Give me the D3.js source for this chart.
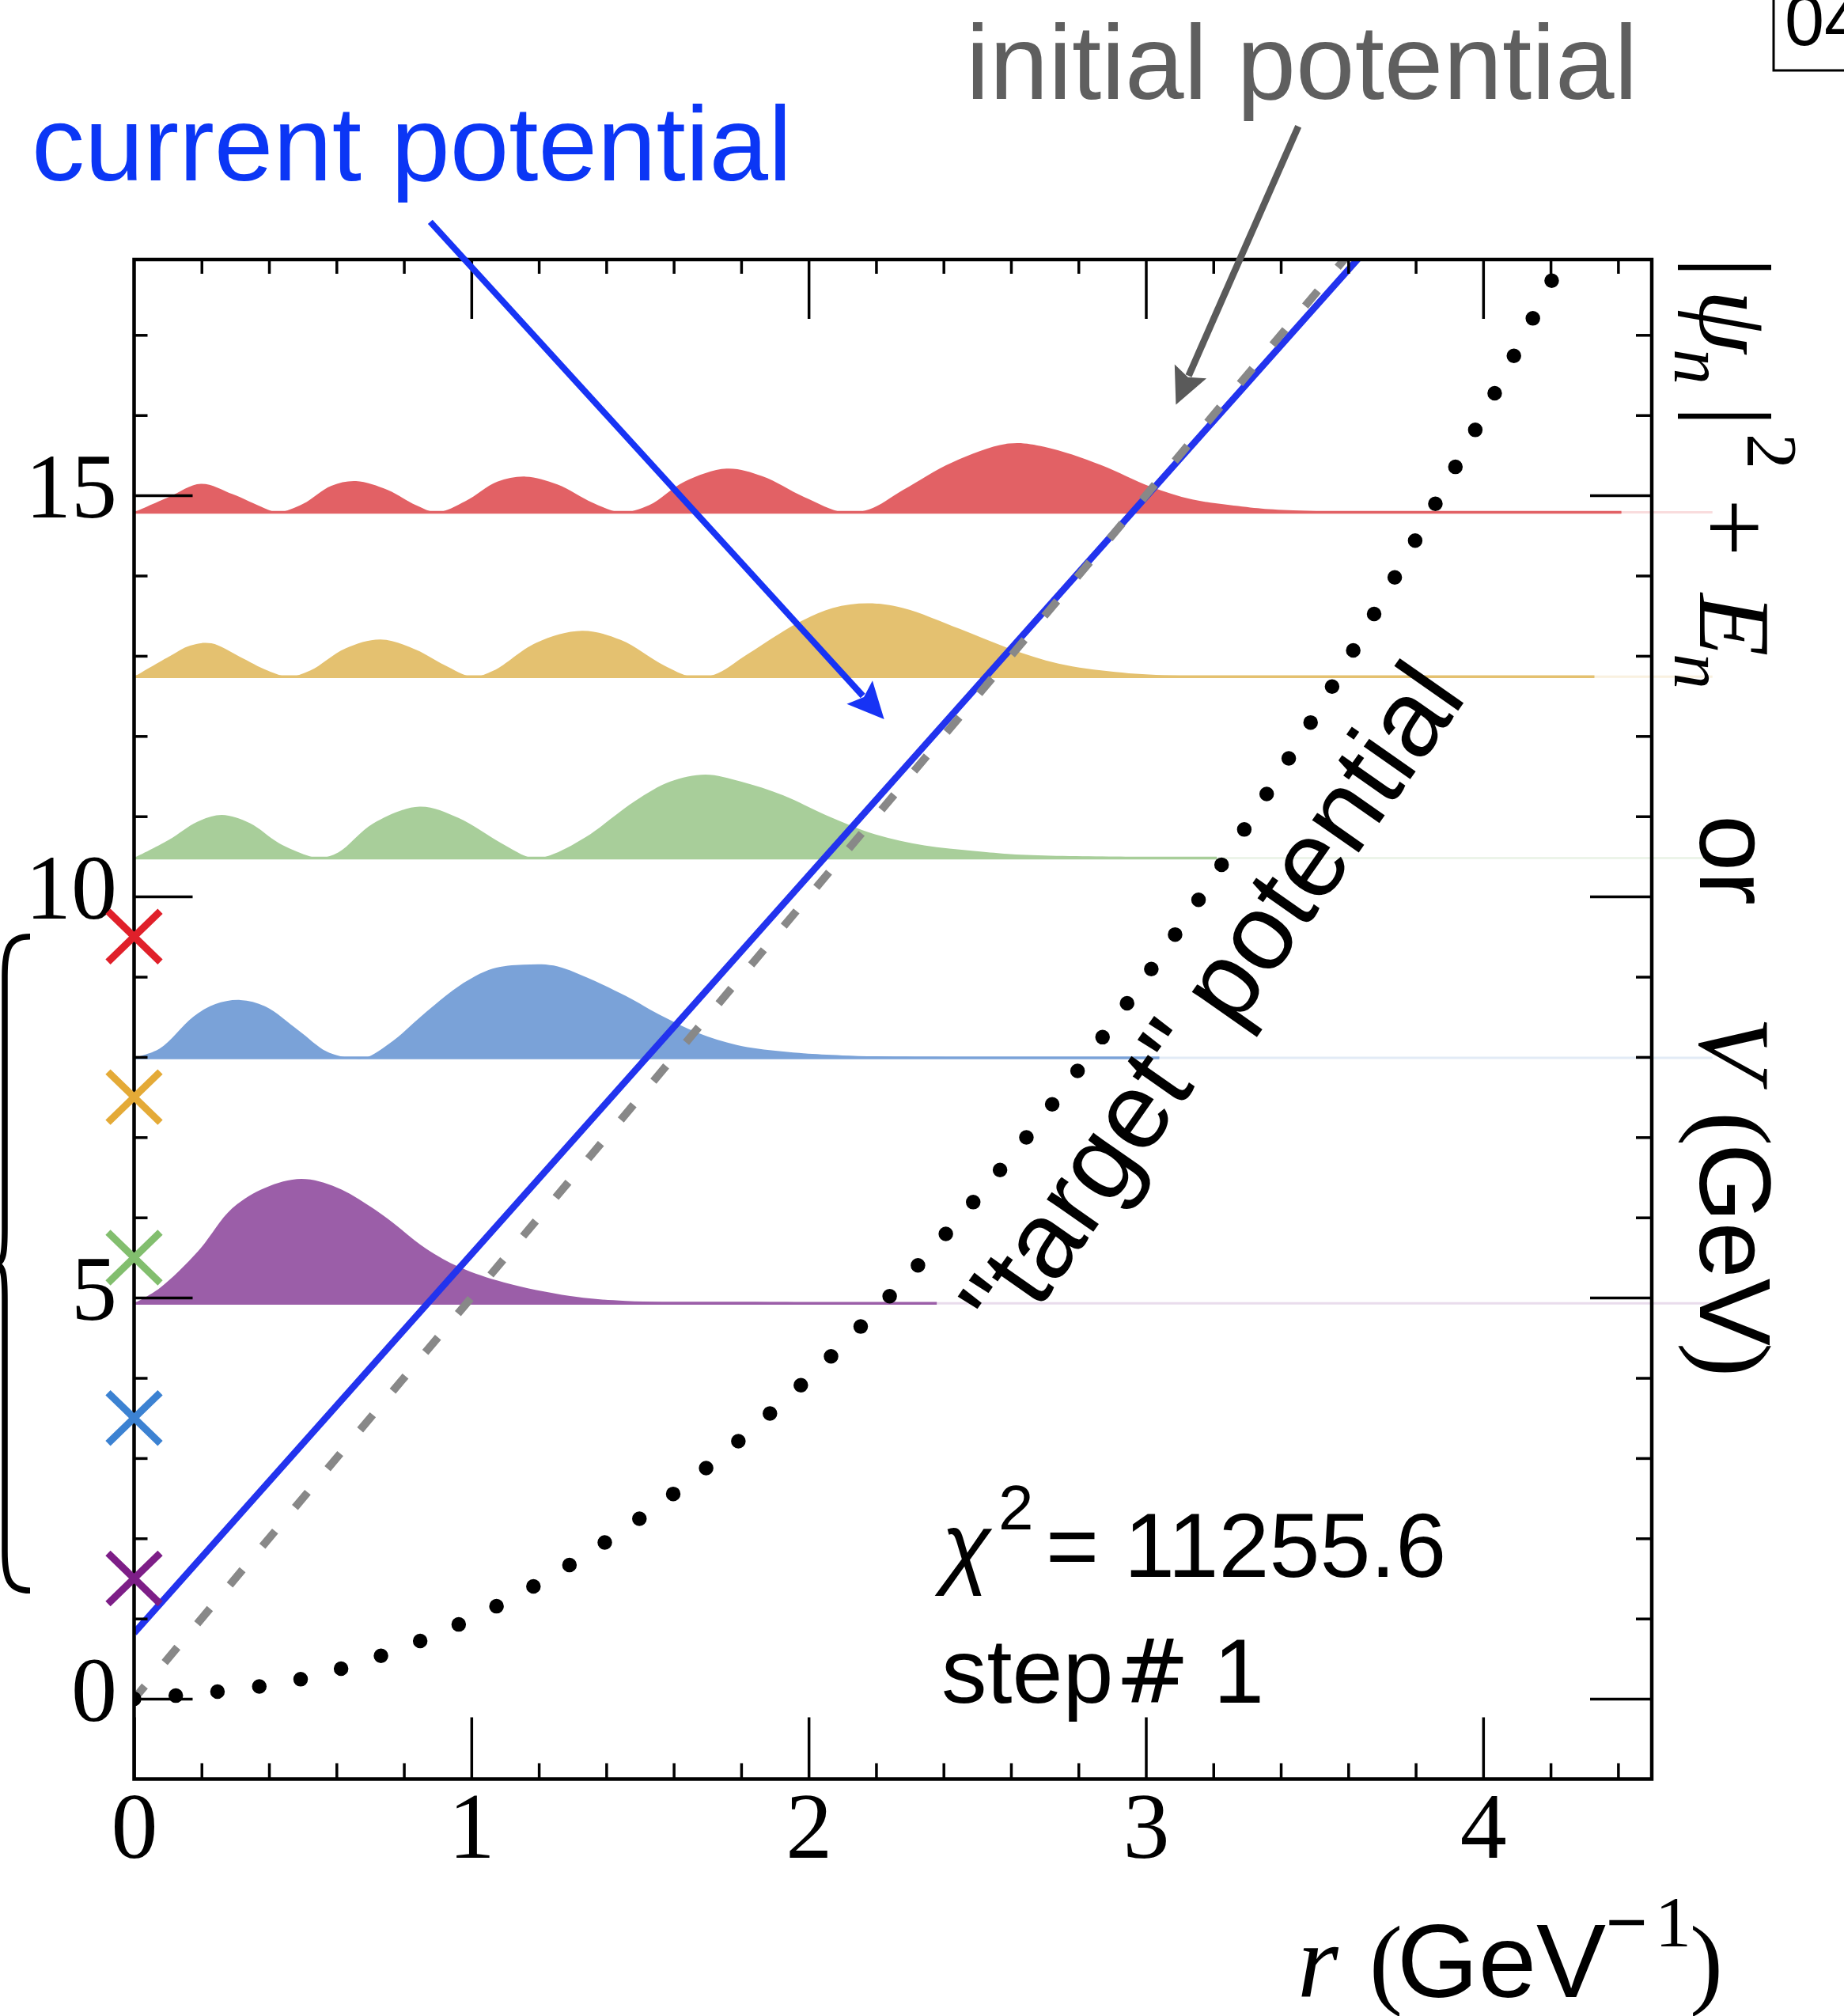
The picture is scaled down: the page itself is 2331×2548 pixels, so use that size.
<!DOCTYPE html>
<html><head><meta charset="utf-8">
<script src="https://cdn.jsdelivr.net/npm/d3@7"></script>
<style>body{margin:0;background:#fff}svg{display:block}</style>
</head><body>
<svg id="chart" width="2331" height="2548"></svg>
<script>
// ---------- data ----------
const xMajorTicks = [0, 1, 2, 3, 4];
const xMinorTicks = [0.2,0.4,0.6,0.8,1.2,1.4,1.6,1.8,2.2,2.4,2.6,2.8,3.2,3.4,3.6,3.8,4.2,4.4];
const yMajorTicks = [0, 5, 10, 15];
const yMinorTicks = [1,2,3,4,6,7,8,9,11,12,13,14,16,17];

// eigen-energies of the target (x markers on the axis), bottom to top
const targetEnergies = [1.5, 3.5, 5.5, 7.5, 9.5];
const markerColors = ["#7d1e87", "#3c82d2", "#82be6e", "#e4aa37", "#e0202a"];

// levels of the current potential (baselines of |psi_n|^2 + E_n)
const levelEnergies = [4.93, 7.99, 10.48, 12.74, 14.79];
const levelColors = ["#9b5ea8", "#7aa2d8", "#a8ce9a", "#e4c170", "#e26165"];
const levelSolidEnd = [2.38, 3.04, 3.21, 4.33, 4.41];
const levelFadeEnd = 4.68;

// densities |psi_n|^2 : [r, height above E_n]
const psi1 = [[0,0],[0.076,0.19],[0.19,0.65],[0.29,1.18],[0.389,1.44],[0.496,1.55],[0.603,1.44],[0.734,1.11],[0.866,0.68],[0.965,0.45],[1.096,0.26],[1.293,0.09],[1.458,0.03],[1.886,0.015],[2.38,0.008]];
const psi2 = [[0,0],[0.076,0.115],[0.175,0.51],[0.241,0.67],[0.315,0.72],[0.389,0.64],[0.488,0.34],[0.57,0.08],[0.636,0],[0.685,0],[0.767,0.21],[0.866,0.57],[0.965,0.90],[1.063,1.11],[1.154,1.16],[1.244,1.15],[1.343,1.0],[1.458,0.77],[1.557,0.54],[1.672,0.31],[1.787,0.16],[1.919,0.08],[2.10,0.03],[2.56,0.008],[3.04,0.004]];
const psi3 = [[0,0],[0.103,0.225],[0.187,0.45],[0.26,0.537],[0.344,0.433],[0.428,0.19],[0.512,0.035],[0.553,0],[0.606,0.07],[0.71,0.433],[0.846,0.64],[0.962,0.50],[1.087,0.19],[1.181,0],[1.234,0.035],[1.339,0.26],[1.485,0.71],[1.59,0.953],[1.694,1.04],[1.799,0.953],[1.925,0.78],[2.05,0.537],[2.197,0.295],[2.343,0.156],[2.49,0.087],[2.615,0.045],[2.909,0.017],[3.21,0.005]];
const psi4 = [[0,0],[0.103,0.25],[0.166,0.388],[0.229,0.416],[0.313,0.25],[0.396,0.076],[0.459,0],[0.522,0.076],[0.627,0.354],[0.731,0.464],[0.836,0.336],[0.92,0.146],[1.003,0],[1.066,0.076],[1.192,0.423],[1.328,0.572],[1.443,0.458],[1.569,0.146],[1.653,0],[1.72,0.024],[1.82,0.284],[1.966,0.666],[2.071,0.856],[2.176,0.915],[2.28,0.856],[2.448,0.596],[2.594,0.354],[2.741,0.163],[2.909,0.059],[3.076,0.014],[3.4,0.006],[4.33,0.004]];
const psi5 = [[0,0],[0.103,0.19],[0.198,0.354],[0.292,0.225],[0.386,0.052],[0.428,0],[0.501,0.104],[0.585,0.329],[0.658,0.388],[0.752,0.277],[0.836,0.087],[0.899,0],[0.983,0.139],[1.077,0.381],[1.161,0.444],[1.255,0.347],[1.359,0.121],[1.443,0],[1.527,0.087],[1.632,0.381],[1.757,0.544],[1.862,0.451],[1.987,0.19],[2.103,0],[2.18,0.035],[2.28,0.277],[2.427,0.624],[2.594,0.856],[2.699,0.815],[2.867,0.589],[3.013,0.32],[3.138,0.16],[3.286,0.071],[3.377,0.035],[3.506,0.013],[3.8,0.006],[4.41,0.004]];
const densities = [psi1, psi2, psi3, psi4, psi5];

// potentials [r, V]
const targetPotential = [[0,0],[0.5,0.25],[1,1],[1.5,2.25],[2,4],[2.5,6.25],[3,9],[3.5,12.25],[4,16],[4.3,18.5]];
const initialPotential = [[0,0],[3.7,18.5]];
const currentPotential = [[0,0.82],[3.64,18.0],[3.72,18.38]];

// annotation arrows in data units [start, tip]
const currentArrow = [[0.878, 18.41], [2.224, 12.21]];
const initialArrow = [[3.452, 19.6], [3.089, 16.13]];

// ---------- scales ----------
const svg = d3.select("#chart");
const x = d3.scaleLinear().domain([0, 4.5]).range([169.5, 2088]);
const y = d3.scaleLinear().domain([-1, 17.94]).range([2248.5, 328]);

const serif = "'Liberation Serif','Times New Roman',serif";
const sans = "'Liberation Sans',Arial,Helvetica,sans-serif";

svg.append("defs").append("clipPath").attr("id","plotclip")
  .append("rect").attr("x", x(0)).attr("y", y(17.94))
  .attr("width", x(4.5)-x(0)).attr("height", y(-1)-y(17.94));

// ---------- densities ----------
const gDen = svg.append("g");
densities.forEach((d, i) => {
  const E = levelEnergies[i];
  const area = d3.area().x(p => x(p[0])).y0(y(E)).y1(p => y(E + p[1])).curve(d3.curveCatmullRom.alpha(0.5));
  gDen.append("path").attr("d", area(d)).attr("fill", levelColors[i]);
  gDen.append("line").attr("x1", x(0)).attr("x2", x(levelSolidEnd[i]))
    .attr("y1", y(E)).attr("y2", y(E)).attr("stroke", levelColors[i]).attr("stroke-width", 3.5);
  gDen.append("line").attr("x1", x(levelSolidEnd[i])).attr("x2", x(levelFadeEnd))
    .attr("y1", y(E)).attr("y2", y(E)).attr("stroke", levelColors[i]).attr("stroke-width", 3)
    .attr("stroke-opacity", 0.22);
});

// ---------- potentials ----------
const line = d3.line().x(p => x(p[0])).y(p => y(p[1]));
const gPot = svg.append("g").attr("clip-path", "url(#plotclip)");
gPot.append("path").attr("d", line.curve(d3.curveLinear)(currentPotential))
  .attr("fill","none").attr("stroke","#2233ee").attr("stroke-width",8.5);
gPot.append("path").attr("d", line.curve(d3.curveLinear)(initialPotential))
  .attr("fill","none").attr("stroke","#888").attr("stroke-width",10)
  .attr("stroke-dasharray","25 39").attr("stroke-dashoffset",4);
gPot.append("path").attr("d", line.curve(d3.curveCatmullRom)(targetPotential))
  .attr("fill","none").attr("stroke","#000").attr("stroke-width",18.5)
  .attr("stroke-linecap","round").attr("stroke-dasharray","0 53");

// ---------- frame & axes ----------
function styleAxis(g) {
  g.select(".domain").remove();
  g.selectAll(".tick line").attr("stroke","#000").attr("stroke-width",3.5);
}
const fmt = d3.format("d");
// bottom
svg.append("g").attr("transform",`translate(0,${y(-1)})`)
  .call(d3.axisBottom(x).tickValues(xMinorTicks).tickSize(-20).tickSizeOuter(0).tickFormat(""))
  .call(styleAxis);
const gBottom = svg.append("g").attr("transform",`translate(0,${y(-1)})`)
  .call(d3.axisBottom(x).tickValues(xMajorTicks).tickSize(-78).tickSizeOuter(0).tickFormat(fmt))
  .call(styleAxis);
gBottom.selectAll(".tick text").attr("y", 99.5).attr("dy", 0)
  .attr("font-family", serif).attr("font-size", 118).attr("fill","#000");
// top
svg.append("g").attr("transform",`translate(0,${y(17.94)})`)
  .call(d3.axisTop(x).tickValues(xMinorTicks).tickSize(-18).tickSizeOuter(0).tickFormat(""))
  .call(styleAxis);
svg.append("g").attr("transform",`translate(0,${y(17.94)})`)
  .call(d3.axisTop(x).tickValues(xMajorTicks.slice(1)).tickSize(-75).tickSizeOuter(0).tickFormat(""))
  .call(styleAxis);
// left
svg.append("g").attr("transform",`translate(${x(0)},0)`)
  .call(d3.axisLeft(y).tickValues(yMinorTicks).tickSize(-17).tickSizeOuter(0).tickFormat(""))
  .call(styleAxis);
const gLeft = svg.append("g").attr("transform",`translate(${x(0)},0)`)
  .call(d3.axisLeft(y).tickValues(yMajorTicks).tickSize(-74).tickSizeOuter(0).tickFormat(fmt))
  .call(styleAxis);
gLeft.selectAll(".tick text").attr("x", -21.5).attr("dy", 27)
  .attr("font-family", serif).attr("font-size", 116).attr("fill","#000");
// right
svg.append("g").attr("transform",`translate(${x(4.5)},0)`)
  .call(d3.axisRight(y).tickValues(yMinorTicks).tickSize(-20).tickSizeOuter(0).tickFormat(""))
  .call(styleAxis);
svg.append("g").attr("transform",`translate(${x(4.5)},0)`)
  .call(d3.axisRight(y).tickValues(yMajorTicks).tickSize(-78).tickSizeOuter(0).tickFormat(""))
  .call(styleAxis);
svg.append("rect").attr("x", x(0)).attr("y", y(17.94))
  .attr("width", x(4.5)-x(0)).attr("height", y(-1)-y(17.94))
  .attr("fill","none").attr("stroke","#000").attr("stroke-width",4.5);

// ---------- target eigenvalue markers ----------
svg.append("g").selectAll("path").data(targetEnergies).join("path")
  .attr("transform", (d) => `translate(${x(0)},${y(d)})`)
  .attr("d","M-33,-32L33,32M-33,32L33,-32")
  .attr("fill","none").attr("stroke",(d,i)=>markerColors[i]).attr("stroke-width",9);

// brace
{
  const top = y(9.5), bot = y(1.35), mid = y(5.42);
  const p = `M38,${top} C12,${top} 6,${top+14} 6,${top+50} L6,${mid-45} C6,${mid-12} 4,${mid-3} -4,${mid} `
          + `C4,${mid+3} 6,${mid+12} 6,${mid+45} L6,${bot-50} C6,${bot-14} 12,${bot} 38,${bot}`;
  svg.append("path").attr("d", p).attr("fill","none").attr("stroke","#000").attr("stroke-width",7.5);
}

// ---------- arrows ----------
function arrow(pts, color, width) {
  const x1 = x(pts[0][0]), y1 = y(pts[0][1]), x2 = x(pts[1][0]), y2 = y(pts[1][1]);
  const len = Math.hypot(x2-x1, y2-y1), ux = (x2-x1)/len, uy = (y2-y1)/len;
  const L = 46, w = 22, bx = x2 - L*ux, by = y2 - L*uy;
  svg.append("line").attr("x1",x1).attr("y1",y1).attr("x2",bx+6*ux).attr("y2",by+6*uy)
    .attr("stroke",color).attr("stroke-width",width);
  svg.append("path").attr("d",`M${x2},${y2}L${bx - w*uy},${by + w*ux}L${bx + 8*ux},${by + 8*uy}L${bx + w*uy},${by - w*ux}Z`)
    .attr("fill",color);
}
arrow(currentArrow, "#1733f5", 8);
arrow(initialArrow, "#5a5a5a", 8.5);

// ---------- texts ----------
svg.append("text").attr("x",40).attr("y",228).attr("font-family",sans).attr("font-size",134)
  .attr("fill","#0b36f5").text("current potential");
svg.append("text").attr("x",1221).attr("y",125).attr("font-family",sans).attr("font-size",134)
  .attr("fill","#5f5f5f").text("initial potential");
svg.append("text").attr("transform","translate(1284,1697) rotate(-55)")
  .attr("font-family",sans).attr("font-size",136).attr("fill","#000").text("\"target\" potential");

const chi = svg.append("text").attr("font-family",sans).attr("fill","#000");
chi.append("tspan").attr("x",1190).attr("y",1993).attr("font-size",115).attr("font-style","italic").text("χ");
chi.append("tspan").attr("x",1262).attr("y",1933).attr("font-size",80).text("2");
chi.append("tspan").attr("x",1322).attr("y",1993).attr("font-size",115).text("= 11255.6");
const step = svg.append("text").attr("font-family",sans).attr("fill","#000").attr("font-size",115);
step.append("tspan").attr("x",1190).attr("y",2152).text("step");
step.append("tspan").attr("x",1410).attr("y",2152).attr("font-family","'DejaVu Sans',sans-serif").attr("font-size",112).text("#");
step.append("tspan").attr("x",1534).attr("y",2152).text("1");

// x-axis title
const xt = svg.append("text").attr("fill","#000");
xt.append("tspan").attr("x",1640).attr("y",2524).attr("font-family",serif).attr("font-style","italic").attr("font-size",133).text("r");
xt.append("tspan").attr("x",1731).attr("y",2522).attr("font-family",serif).attr("font-size",126).text("(");
xt.append("tspan").attr("x",1766).attr("y",2524).attr("font-family",sans).attr("font-size",132).text("GeV");
xt.append("tspan").attr("x",2030).attr("y",2460).attr("font-family",sans).attr("font-size",90).text("−");
xt.append("tspan").attr("x",2092).attr("y",2460).attr("font-family",serif).attr("font-size",92).text("1");
xt.append("tspan").attr("x",2136).attr("y",2522).attr("font-family",serif).attr("font-size",126).text(")");

// y (right) title, rotated
const yt = svg.append("text").attr("transform","translate(2149,0) rotate(90)").attr("fill","#000");
const ytParts = [
  {t:"|", x:325, y:0, f:serif, s:130},
  {t:"ψ", x:366, y:0, f:serif, s:130, i:true},
  {t:"n", x:441, y:32, f:serif, s:90, i:true},
  {t:"|", x:513, y:0, f:serif, s:130},
  {t:"2", x:548, y:-60, f:serif, s:90},
  {t:"+", x:630, y:0, f:serif, s:130},
  {t:"E", x:750, y:0, f:serif, s:130, i:true},
  {t:"n", x:826, y:32, f:serif, s:90, i:true},
  {t:"or", x:1030, y:0, f:sans, s:128},
  {t:"V", x:1285, y:0, f:serif, s:130, i:true},
  {t:"(", x:1405, y:0, f:serif, s:130},
  {t:"GeV", x:1445, y:0, f:sans, s:128},
  {t:")", x:1697, y:0, f:serif, s:130}
];
ytParts.forEach(p => {
  yt.append("tspan").attr("x",p.x).attr("y",p.y).attr("font-family",p.f).attr("font-size",p.s)
    .attr("font-style", p.i ? "italic" : "normal").text(p.t);
});

// corner fragment
svg.append("rect").attr("x",2242).attr("y",-10).attr("width",200).attr("height",99)
  .attr("fill","none").attr("stroke","#000").attr("stroke-width",3);
svg.append("text").attr("x",2256).attr("y",57).attr("font-family",sans).attr("font-size",90).text("04");
</script>
</body></html>
